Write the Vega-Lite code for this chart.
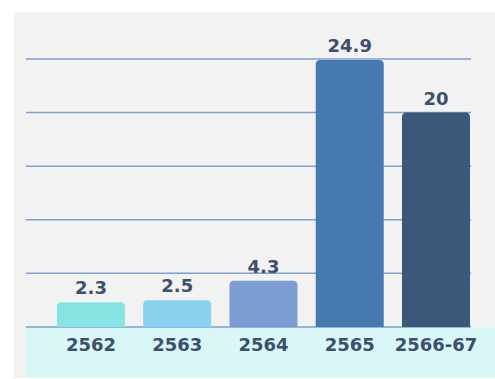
{
  "$schema": "https://vega.github.io/schema/vega-lite/v6.json",
  "width": 481,
  "height": 366,
  "autosize": {"type": "none"},
  "padding": {"left": 14, "top": 12, "right": 0, "bottom": 1},
  "background": "white",
  "config": {"view": {"fill": "#f2f2f2", "stroke": null}},
  "resolve": {"scale": {"x": "independent"}, "axis": {"x": "independent"}},
  "layer": [
    {
      "layer": [
        {
          "data": {"values": [{"x0": 0, "x1": 1.06, "y0": -4.76, "y1": 0}]},
          "mark": {"type": "rect", "color": "#d9f7f7"},
          "encoding": {
            "x": {"field": "x0", "type": "quantitative", "scale": {"domain": [-0.02697, 1.05393], "nice": false, "zero": false}, "axis": null},
            "x2": {"field": "x1"},
            "y": {"field": "y0", "type": "quantitative", "scale": {"domain": [-4.76, 29.38], "nice": false, "zero": false}, "axis": null},
            "y2": {"field": "y1"}
          }
        },
        {
          "data": {"values": [{"g": 0, "x0": 0, "x1": 1}, {"g": 5, "x0": 0, "x1": 1}, {"g": 10, "x0": 0, "x1": 1}, {"g": 15, "x0": 0, "x1": 1}, {"g": 20, "x0": 0, "x1": 1}, {"g": 25, "x0": 0, "x1": 1}]},
          "mark": {"type": "rule", "color": "#7c9fd6", "strokeWidth": 1.5},
          "encoding": {
            "x": {"field": "x0", "type": "quantitative", "scale": {"domain": [-0.02697, 1.05393], "nice": false, "zero": false}, "axis": null},
            "x2": {"field": "x1"},
            "y": {"field": "g", "type": "quantitative", "scale": {"domain": [-4.76, 29.38], "nice": false, "zero": false}, "axis": null}
          }
        }
      ]
    },
    {
      "data": {"values": [
        {"year": "2562", "value": 2.3},
        {"year": "2563", "value": 2.5},
        {"year": "2564", "value": 4.3},
        {"year": "2565", "value": 24.9},
        {"year": "2566-67", "value": 20}
      ]},
      "encoding": {
        "x": {"field": "year", "type": "nominal", "sort": null,
              "scale": {"paddingInner": 0.2116, "paddingOuter": 0.394, "align": 0.632},
              "axis": {"orient": "bottom", "zindex": 2, "title": null, "domain": false, "ticks": false, "grid": false, "labelAngle": 0, "offset": -51, "labelPadding": 9,
                       "labelFont": "DejaVu Sans", "labelFontSize": 18, "labelFontWeight": "bold", "labelColor": "#3b4f6e"}},
        "y": {"field": "value", "type": "quantitative", "scale": {"domain": [-4.76, 29.38], "nice": false, "zero": false}, "axis": null}
      },
      "layer": [
        {
          "mark": {"type": "bar", "cornerRadiusTopLeft": 4, "cornerRadiusTopRight": 4},
          "encoding": {
            "y2": {"datum": 0},
            "color": {"field": "year", "type": "nominal", "legend": null,
                      "scale": {"domain": ["2562", "2563", "2564", "2565", "2566-67"], "range": ["#86e4e3", "#88d2ee", "#7b9dd2", "#4679ae", "#3b5779"]}}
          }
        },
        {
          "mark": {"type": "text", "baseline": "alphabetic", "dy": -8, "font": "DejaVu Sans", "fontSize": 18, "fontWeight": "bold", "color": "#3b4f6e"},
          "encoding": {"text": {"field": "value", "type": "quantitative"}}
        }
      ]
    }
  ]
}
